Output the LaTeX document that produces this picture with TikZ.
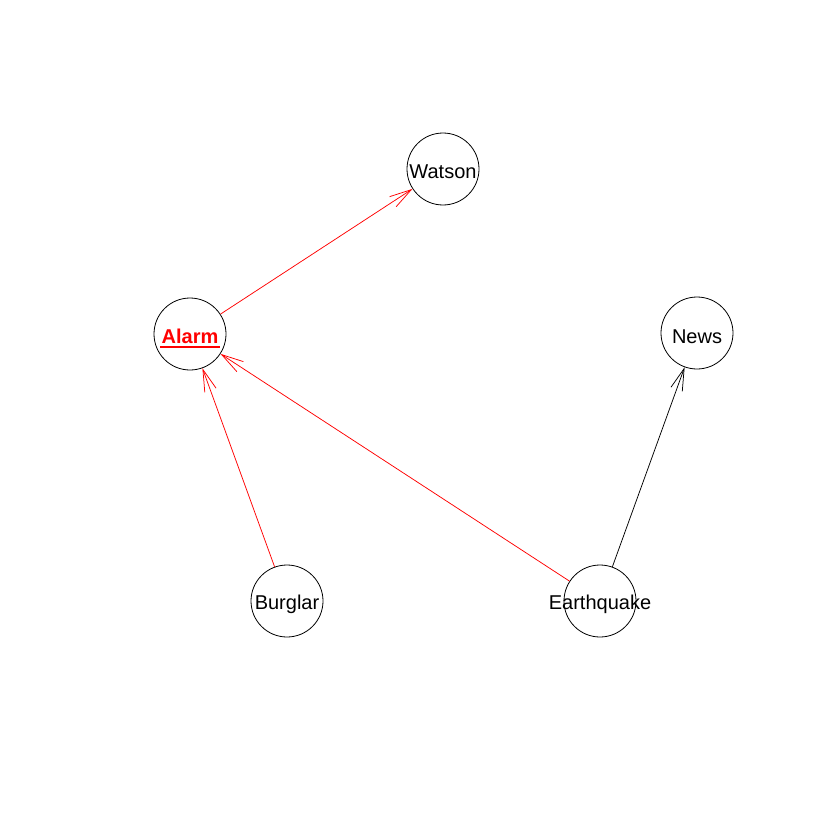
\documentclass[tikz,border=0pt]{standalone}
\usepackage{fontspec}
\setmainfont{Liberation Sans}
\usetikzlibrary{arrows.meta}
\begin{document}
\begin{tikzpicture}[x=1pt,y=-1pt,
  vert/.style={circle,draw=black,line width=0.8pt,minimum size=72pt,inner sep=0pt},
  vlabel/.style={anchor=base,inner sep=0pt,font=\fontsize{20}{22}\selectfont},
  edge/.style={line width=0.75pt,-{Straight Barb[length=22pt,width=12pt,line width=0.75pt]}},
  hot/.style={red}]
  \useasboundingbox (0,0) rectangle (840,840);
  % vertices
  \node[vert] (watson) at (443,169) {};
  \node[vert] (alarm) at (190,334) {};
  \node[vert] (news) at (697,333) {};
  \node[vert] (burglar) at (287,601) {};
  \node[vert] (quake) at (600,601) {};
  % vertex labels
  \node[vlabel] (tw) at (443,178) {Watson};
  \node[vlabel,red,font=\fontsize{20}{22}\selectfont\bfseries] (ta) at (190,343) {Alarm};
  \node[vlabel] (tn) at (697,343) {News};
  \node[vlabel] (tb) at (287,609) {Burglar};
  \node[vlabel] (tq) at (600,609) {Earthquake};
  % underline of the highlighted node
  \draw[red,line width=1.1pt] ([xshift=-1pt,yshift=-4pt]ta.base west) -- ([xshift=1pt,yshift=-4pt]ta.base east);
  % arcs
  \draw[edge,hot] (alarm) -- (watson);
  \draw[edge,hot] (burglar) -- (alarm);
  \draw[edge,hot] (quake) -- (alarm);
  \draw[edge] (quake) -- (news);
\end{tikzpicture}
\end{document}
